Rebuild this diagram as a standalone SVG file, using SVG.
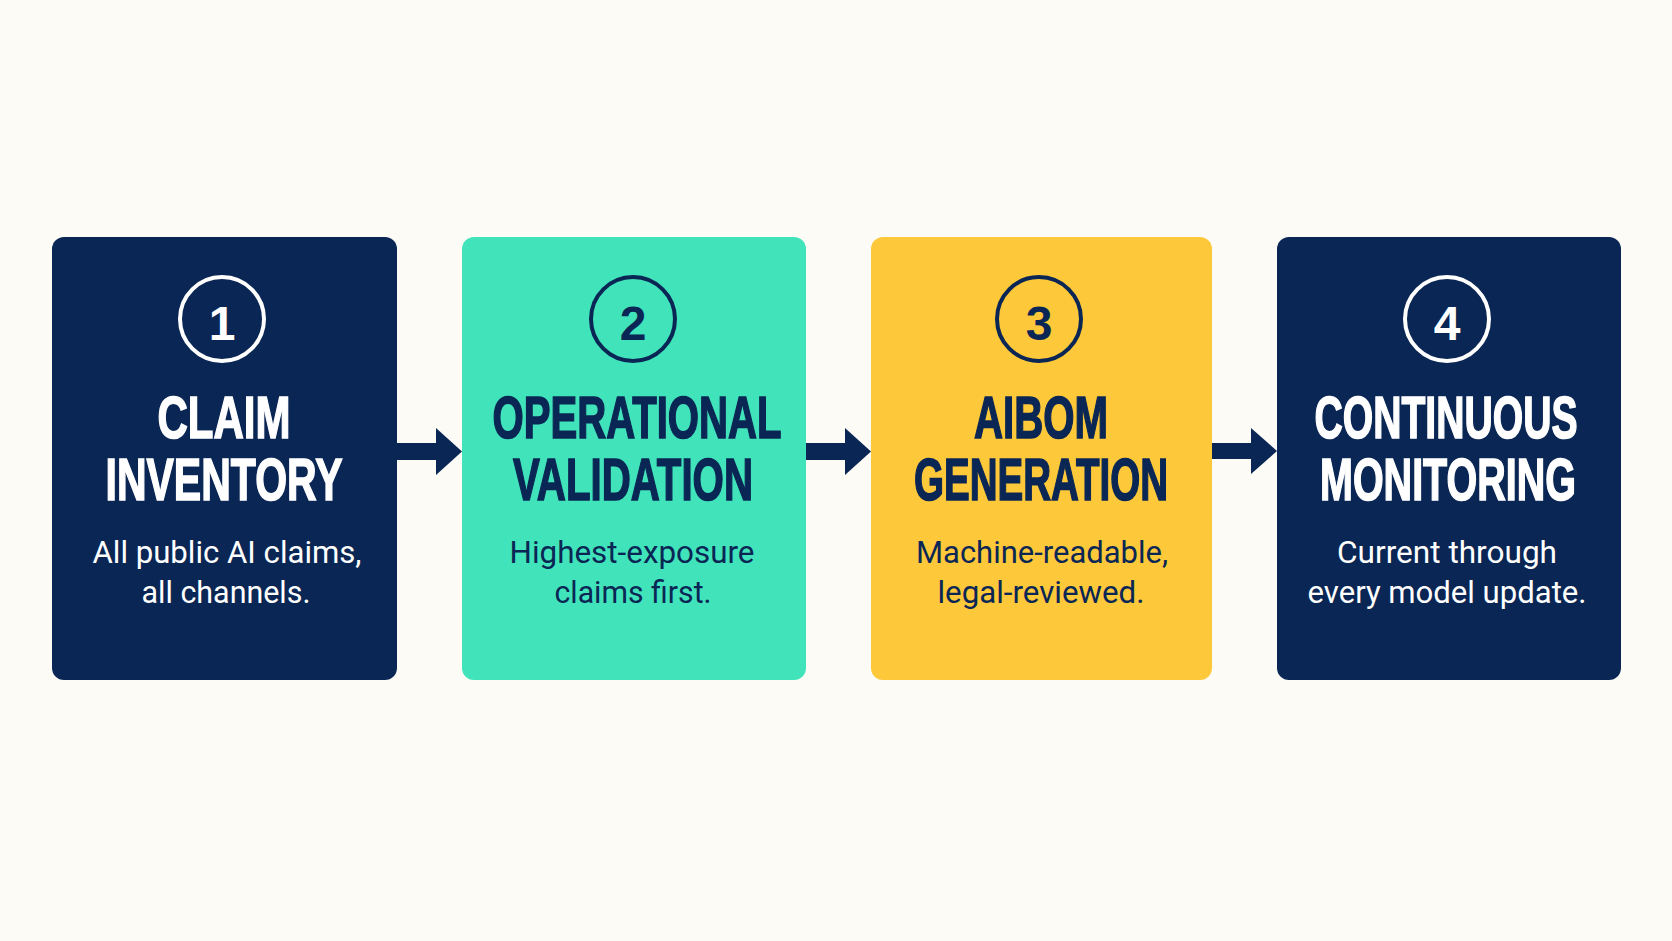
<svg xmlns="http://www.w3.org/2000/svg" width="1672" height="941" viewBox="0 0 1672 941">
<style>
.bg{fill:#FCFBF6}
.navy{fill:#0A2654}
.teal{fill:#41E3BA}
.yellow{fill:#FDC83A}
.ring-l{fill:none;stroke:#FFFFFF;stroke-width:4}
.ring-d{fill:none;stroke:#0A2654;stroke-width:4}
.num{font-family:"Liberation Sans",Arial,sans-serif;font-weight:bold;font-size:48px;text-anchor:middle}
.head{font-family:"Liberation Sans Narrow","Liberation Sans",Arial,sans-serif;font-weight:bold;font-size:60px;text-anchor:middle;stroke-width:1.6}
.sub{font-family:Roboto,"Liberation Sans",Arial,sans-serif;font-weight:400;font-size:32px;text-anchor:middle}
.light{fill:#FFFFFF}
.dark{fill:#0A2654}
.head.light{stroke:#FFFFFF}
.head.dark{stroke:#0A2654}
.arrow{fill:#0A2654}
</style>
<rect class="bg" x="0" y="0" width="1672" height="941"/>

<g id="connectors">
  <g id="arrow-1-2">
    <rect class="arrow" x="396" y="443" width="44" height="17"/>
    <polygon class="arrow" points="436,428 462,451.5 436,475"/>
  </g>
  <g id="arrow-2-3">
    <rect class="arrow" x="805" y="443" width="44" height="17"/>
    <polygon class="arrow" points="845,428 871,451.5 845,475"/>
  </g>
  <g id="arrow-3-4">
    <rect class="arrow" x="1211" y="443" width="44" height="16"/>
    <polygon class="arrow" points="1251,428 1277,451 1251,474"/>
  </g>
</g>

<g id="node-1">
  <rect class="navy" x="52" y="237" width="345" height="443" rx="12"/>
  <circle class="ring-l" cx="222" cy="319" r="42"/>
  <text class="num light" x="222" y="340">1</text>
  <text class="head light" x="224" y="438" textLength="133" lengthAdjust="spacingAndGlyphs">CLAIM</text>
  <text class="head light" x="224" y="500" textLength="237" lengthAdjust="spacingAndGlyphs">INVENTORY</text>
  <text class="sub light" x="227" y="563" textLength="269" lengthAdjust="spacingAndGlyphs">All public AI claims,</text>
  <text class="sub light" x="226" y="603" textLength="169" lengthAdjust="spacingAndGlyphs">all channels.</text>
</g>

<g id="node-2">
  <rect class="teal" x="462" y="237" width="344" height="443" rx="12"/>
  <circle class="ring-d" cx="633" cy="319" r="42"/>
  <text class="num dark" x="633" y="340">2</text>
  <text class="head dark" x="637" y="438" textLength="289" lengthAdjust="spacingAndGlyphs">OPERATIONAL</text>
  <text class="head dark" x="633" y="500" textLength="240" lengthAdjust="spacingAndGlyphs">VALIDATION</text>
  <text class="sub dark" x="632" y="563" textLength="245" lengthAdjust="spacingAndGlyphs">Highest-exposure</text>
  <text class="sub dark" x="633" y="603" textLength="157" lengthAdjust="spacingAndGlyphs">claims first.</text>
</g>

<g id="node-3">
  <rect class="yellow" x="871" y="237" width="341" height="443" rx="12"/>
  <circle class="ring-d" cx="1039" cy="319" r="42"/>
  <text class="num dark" x="1039" y="340">3</text>
  <text class="head dark" x="1041" y="438" textLength="134" lengthAdjust="spacingAndGlyphs">AIBOM</text>
  <text class="head dark" x="1041" y="500" textLength="254" lengthAdjust="spacingAndGlyphs">GENERATION</text>
  <text class="sub dark" x="1042" y="563" textLength="252" lengthAdjust="spacingAndGlyphs">Machine-readable,</text>
  <text class="sub dark" x="1041" y="603" textLength="207" lengthAdjust="spacingAndGlyphs">legal-reviewed.</text>
</g>

<g id="node-4">
  <rect class="navy" x="1277" y="237" width="344" height="443" rx="12"/>
  <circle class="ring-l" cx="1447" cy="319" r="42"/>
  <text class="num light" x="1447" y="340">4</text>
  <text class="head light" x="1446" y="438" textLength="263" lengthAdjust="spacingAndGlyphs">CONTINUOUS</text>
  <text class="head light" x="1448" y="500" textLength="256" lengthAdjust="spacingAndGlyphs">MONITORING</text>
  <text class="sub light" x="1447" y="563" textLength="220" lengthAdjust="spacingAndGlyphs">Current through</text>
  <text class="sub light" x="1447" y="603" textLength="279" lengthAdjust="spacingAndGlyphs">every model update.</text>
</g>
</svg>
